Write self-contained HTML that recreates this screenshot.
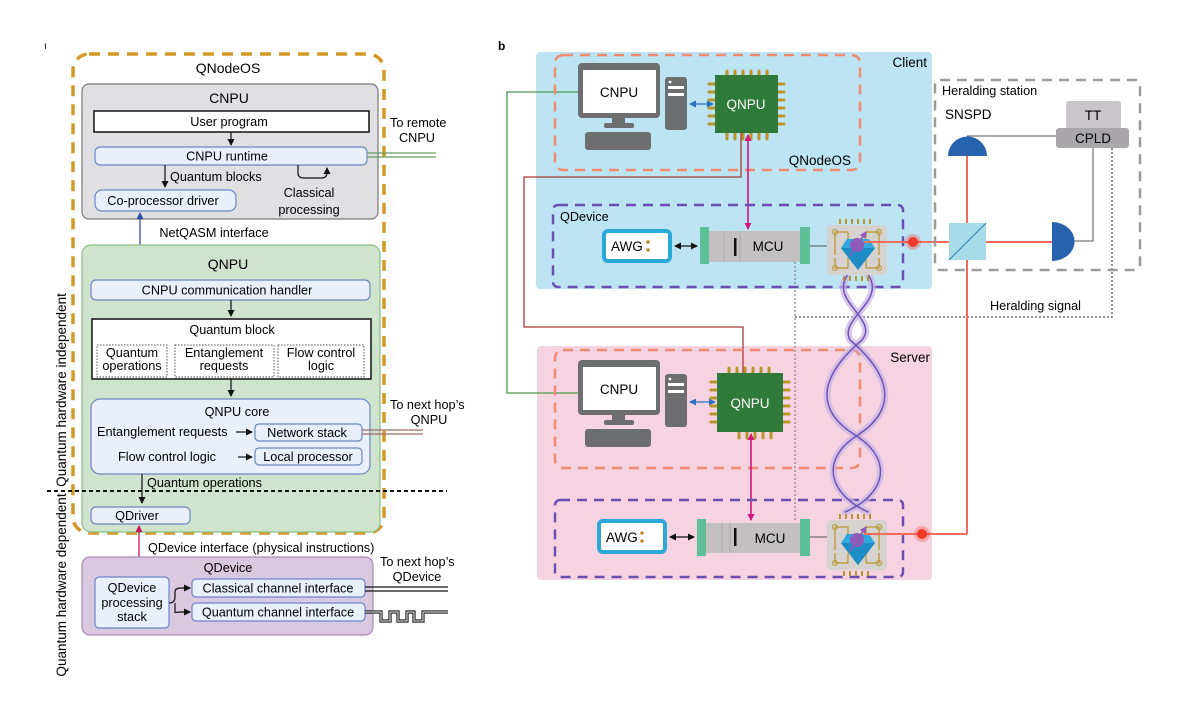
<!DOCTYPE html>
<html><head><meta charset="utf-8"><style>
html,body{margin:0;padding:0;background:#fff;}
svg{display:block;font-family:"Liberation Sans",Arial,sans-serif;}
</style></head><body>
<svg width="1198" height="723" viewBox="0 0 1198 723" xmlns="http://www.w3.org/2000/svg">
<defs>
<marker id="ah" markerWidth="8" markerHeight="8" refX="6" refY="4" orient="auto-start-reverse" markerUnits="userSpaceOnUse"><path d="M0,0.5 L7,4 L0,7.5 Z" fill="#111"/></marker>
<marker id="ahb" markerWidth="8" markerHeight="8" refX="6" refY="4" orient="auto-start-reverse" markerUnits="userSpaceOnUse"><path d="M0,0.5 L7,4 L0,7.5 Z" fill="#2c4fb0"/></marker>
<marker id="ahp" markerWidth="8" markerHeight="8" refX="6" refY="4" orient="auto-start-reverse" markerUnits="userSpaceOnUse"><path d="M0,0.5 L7,4 L0,7.5 Z" fill="#c2185b"/></marker>
<marker id="ahm" markerWidth="8" markerHeight="8" refX="6" refY="4" orient="auto-start-reverse" markerUnits="userSpaceOnUse"><path d="M0,0.5 L7,4 L0,7.5 Z" fill="#d6157f"/></marker>
<marker id="ahv" markerWidth="8" markerHeight="8" refX="6" refY="4" orient="auto-start-reverse" markerUnits="userSpaceOnUse"><path d="M0,0.5 L7,4 L0,7.5 Z" fill="#8e5bb8"/></marker>
<marker id="ahl" markerWidth="8" markerHeight="8" refX="6" refY="4" orient="auto-start-reverse" markerUnits="userSpaceOnUse"><path d="M0,0.5 L7,4 L0,7.5 Z" fill="#2a6fc0"/></marker>
</defs>

<!-- ===== LEFT PANEL ===== -->
<text x="44" y="49" font-size="10">ı</text>
<rect x="73" y="54" width="311" height="479" rx="16" fill="none" stroke="#d49a28" stroke-width="3.5" stroke-dasharray="11,8"/>
<text x="228" y="73" font-size="14" text-anchor="middle">QNodeOS</text>

<rect x="82" y="84" width="296" height="135" rx="7" fill="#e0e0e2" stroke="#7a7a7c" stroke-width="1.2"/>
<text x="229" y="103" font-size="14" text-anchor="middle">CNPU</text>
<rect x="94" y="111" width="275" height="21" fill="#fff" stroke="#111" stroke-width="1.5"/>
<text x="229" y="126" font-size="12.7" text-anchor="middle">User program</text>
<line x1="231" y1="132" x2="231" y2="145" stroke="#111" stroke-width="1.2" marker-end="url(#ah)"/>
<rect x="95" y="147" width="272" height="18" rx="5" fill="#eaf0fb" stroke="#6b86c6" stroke-width="1.2"/>
<text x="227" y="160.5" font-size="12.7" text-anchor="middle">CNPU runtime</text>
<line x1="165" y1="165" x2="165" y2="187" stroke="#111" stroke-width="1.2" marker-end="url(#ah)"/>
<text x="170" y="181" font-size="12.7">Quantum blocks</text>
<path d="M298,165 V173 Q298,178 304,178 H322 Q327,178 327,172 V168" fill="none" stroke="#111" stroke-width="1.2" marker-end="url(#ah)"/>
<text x="309" y="197" font-size="12.7" text-anchor="middle">Classical</text>
<text x="309" y="214" font-size="12.7" text-anchor="middle">processing</text>
<rect x="95" y="190" width="141" height="21" rx="7" fill="#eaf0fb" stroke="#6b86c6" stroke-width="1.2"/>
<text x="163" y="205" font-size="12.7" text-anchor="middle">Co-processor driver</text>
<line x1="140" y1="213" x2="140" y2="278" stroke="#2c4fb0" stroke-width="1.3" marker-start="url(#ahb)" marker-end="url(#ahb)"/>
<text x="214" y="237" font-size="12.7" text-anchor="middle">NetQASM interface</text>

<rect x="82" y="245" width="298" height="287" rx="9" fill="#cfe4cc" stroke="#8bbd85" stroke-width="1.2"/>
<text x="228" y="269" font-size="14" text-anchor="middle">QNPU</text>
<rect x="91" y="280" width="279" height="20" rx="5" fill="#eaf0fb" stroke="#6b86c6" stroke-width="1.2"/>
<text x="227" y="294.5" font-size="12.7" text-anchor="middle">CNPU communication handler</text>
<line x1="231" y1="300" x2="231" y2="316" stroke="#111" stroke-width="1.2" marker-end="url(#ah)"/>
<rect x="92" y="319" width="279" height="60" fill="#fff" stroke="#111" stroke-width="1.5"/>
<text x="232" y="334" font-size="12.7" text-anchor="middle">Quantum block</text>
<g fill="none" stroke="#555" stroke-width="1" stroke-dasharray="1.5,1.5">
<rect x="97" y="345" width="70" height="32"/><rect x="175" y="345" width="99" height="32"/><rect x="278" y="345" width="86" height="32"/>
</g>
<g font-size="12.7" text-anchor="middle">
<text x="132" y="357">Quantum</text><text x="132" y="370">operations</text>
<text x="224" y="357">Entanglement</text><text x="224" y="370">requests</text>
<text x="321" y="357">Flow control</text><text x="321" y="370">logic</text>
</g>
<line x1="231" y1="379" x2="231" y2="396" stroke="#111" stroke-width="1.2" marker-end="url(#ah)"/>
<rect x="91" y="399" width="279" height="75" rx="9" fill="#eaf0fb" stroke="#6b86c6" stroke-width="1.2"/>
<text x="237" y="416" font-size="12.7" text-anchor="middle">QNPU core</text>
<text x="97" y="436" font-size="12.7">Entanglement requests</text>
<line x1="236" y1="432" x2="252" y2="432" stroke="#111" stroke-width="1.2" marker-end="url(#ah)"/>
<rect x="255" y="424" width="107" height="17" rx="4" fill="#eaf0fb" stroke="#6b86c6" stroke-width="1.2"/>
<text x="307" y="437" font-size="12.7" text-anchor="middle">Network stack</text>
<text x="118" y="461" font-size="12.7">Flow control logic</text>
<line x1="238" y1="457" x2="252" y2="457" stroke="#111" stroke-width="1.2" marker-end="url(#ah)"/>
<rect x="255" y="448" width="107" height="17" rx="4" fill="#eaf0fb" stroke="#6b86c6" stroke-width="1.2"/>
<text x="308" y="461" font-size="12.7" text-anchor="middle">Local processor</text>
<line x1="362" y1="430" x2="423" y2="430" stroke="#a06a6a" stroke-width="1.2"/>
<line x1="362" y1="434" x2="423" y2="434" stroke="#a06a6a" stroke-width="1.2"/>
<text x="390" y="409" font-size="12.7">To next hop’s</text>
<text x="429" y="424" font-size="12.7" text-anchor="middle">QNPU</text>
<line x1="142" y1="474" x2="142" y2="503" stroke="#111" stroke-width="1.2" marker-end="url(#ah)"/>
<text x="147" y="487" font-size="12.7">Quantum operations</text>
<line x1="47" y1="491" x2="447" y2="491" stroke="#111" stroke-width="2" stroke-dasharray="4,3"/>
<rect x="91" y="507" width="99" height="17" rx="5" fill="#eaf0fb" stroke="#6b86c6" stroke-width="1.2"/>
<text x="137" y="520" font-size="12.7" text-anchor="middle">QDriver</text>
<line x1="139" y1="526" x2="139" y2="581" stroke="#c2185b" stroke-width="1.3" marker-start="url(#ahp)" marker-end="url(#ahp)"/>
<text x="148" y="552" font-size="12.7">QDevice interface (physical instructions)</text>

<rect x="82" y="557" width="291" height="78" rx="8" fill="#d9c9e0" stroke="#a98bb8" stroke-width="1.2"/>
<text x="228" y="572" font-size="12.7" text-anchor="middle">QDevice</text>
<rect x="95" y="577" width="74" height="51" rx="4" fill="#eaf0fb" stroke="#6b86c6" stroke-width="1.2"/>
<g font-size="12.7" text-anchor="middle"><text x="132" y="592">QDevice</text><text x="132" y="607">processing</text><text x="132" y="621">stack</text></g>
<path d="M169,603 Q175,603 175,597 V592 Q175,588 181,588 H190 M175,603 V613 Q175,612 181,612 H190" fill="none" stroke="#111" stroke-width="1.2"/>
<line x1="182" y1="588" x2="190" y2="588" stroke="#111" stroke-width="1.2" marker-end="url(#ah)"/>
<line x1="182" y1="612" x2="190" y2="612" stroke="#111" stroke-width="1.2" marker-end="url(#ah)"/>
<rect x="192" y="579" width="173" height="18" rx="4" fill="#eaf0fb" stroke="#6b86c6" stroke-width="1.2"/>
<text x="278" y="592.5" font-size="12.7" text-anchor="middle">Classical channel interface</text>
<rect x="192" y="603" width="173" height="18" rx="4" fill="#eaf0fb" stroke="#6b86c6" stroke-width="1.2"/>
<text x="278" y="616.5" font-size="12.7" text-anchor="middle">Quantum channel interface</text>
<line x1="365" y1="587" x2="448" y2="587" stroke="#111" stroke-width="1.2"/>
<line x1="365" y1="591" x2="448" y2="591" stroke="#111" stroke-width="1.2"/>
<path d="M365,612 H381 V621 H390 V612 H398 V621 H407 V612 H414 V621 H423 V612 H448" fill="none" stroke="#111" stroke-width="3.2"/>
<path d="M365,612 H381 V621 H390 V612 H398 V621 H407 V612 H414 V621 H423 V612 H448" fill="none" stroke="#fff" stroke-width="1"/>
<text x="380" y="566" font-size="12.7">To next hop’s</text>
<text x="417" y="581" font-size="12.7" text-anchor="middle">QDevice</text>
<text x="390" y="127" font-size="12.7">To remote</text>
<text x="417" y="142" font-size="12.7" text-anchor="middle">CNPU</text>
<line x1="367" y1="153" x2="436" y2="153" stroke="#6b9a62" stroke-width="1.2"/>
<line x1="367" y1="157" x2="436" y2="157" stroke="#6b9a62" stroke-width="1.2"/>

<text transform="translate(66,390) rotate(-90)" font-size="13.5" text-anchor="middle">Quantum hardware independent</text>
<text transform="translate(66,585) rotate(-90)" font-size="13.5" text-anchor="middle">Quantum hardware dependent</text>

<!-- ===== RIGHT PANEL ===== -->
<text x="498" y="50" font-size="12" font-weight="bold">b</text>
<rect x="536" y="52" width="396" height="237" rx="4" fill="#bde4f3"/>
<rect x="537" y="346" width="395" height="234" rx="4" fill="#f6d3e0"/>
<text x="927" y="67" font-size="13.5" text-anchor="end">Client</text>
<text x="930" y="362" font-size="13.5" text-anchor="end">Server</text>

<path d="M578,92 H507 V393 H578" fill="none" stroke="#4a9a4a" stroke-width="1.3"/>
<path d="M741,133 V177 H524 V327 H743 V373" fill="none" stroke="#a83a3a" stroke-width="1.3"/>
<path d="M1112,148 V317 H795" fill="none" stroke="#555" stroke-width="1.3" stroke-dasharray="2,2"/>
<line x1="795" y1="262" x2="795" y2="522" stroke="#777" stroke-width="1.1" stroke-dasharray="2,2"/>

<rect x="555" y="55" width="305" height="115" rx="8" fill="none" stroke="#f08a70" stroke-width="2.5" stroke-dasharray="10,7"/>
<text x="851" y="165" font-size="13.5" text-anchor="end">QNodeOS</text>
<g id="pc1">
<rect x="578" y="63" width="82" height="55" rx="4" fill="#6d6e70"/>
<rect x="583" y="70" width="73" height="43" fill="#fff"/>
<text x="619" y="97" font-size="13.5" text-anchor="middle">CNPU</text>
<rect x="612" y="118" width="13" height="8" fill="#6d6e70"/>
<rect x="604" y="123" width="30" height="5" rx="2" fill="#6d6e70"/>
<rect x="585" y="132" width="66" height="18" rx="3" fill="#6d6e70"/>
<rect x="665" y="77" width="22" height="53" rx="3" fill="#6d6e70"/>
<rect x="668" y="86" width="16" height="3" fill="#fff"/><rect x="668" y="93" width="16" height="3" fill="#fff"/>
<circle cx="670" cy="82" r="1.4" fill="#fff"/>
</g>
<line x1="690" y1="104" x2="713" y2="104" stroke="#2a6fc0" stroke-width="1.3" marker-start="url(#ahl)" marker-end="url(#ahl)"/>
<g stroke="#b8952a" stroke-width="3" stroke-linecap="round">
<path d="M727,71 v5 M735,71 v5 M743,71 v5 M751,71 v5 M759,71 v5 M767,71 v5"/>
<path d="M727,133 v6 M735,133 v6 M743,133 v6 M751,133 v6 M759,133 v6 M767,133 v6"/>
<path d="M709,84 h6 M709,92 h6 M709,100 h6 M709,108 h6 M709,116 h6 M709,124 h6"/>
<path d="M778,84 h6 M778,92 h6 M778,100 h6 M778,108 h6 M778,116 h6 M778,124 h6"/>
</g>
<rect x="715" y="75" width="63" height="58" fill="#2f7a3a"/>
<text x="746" y="109" font-size="13.5" fill="#fff" text-anchor="middle">QNPU</text>
<line x1="748" y1="135" x2="748" y2="229" stroke="#d6157f" stroke-width="1.6" marker-start="url(#ahm)" marker-end="url(#ahm)"/>

<rect x="553" y="205" width="350" height="82" rx="5" fill="none" stroke="#6a4fb3" stroke-width="2.5" stroke-dasharray="10,7"/>
<text x="560" y="221" font-size="12.7">QDevice</text>
<rect x="604" y="231" width="66" height="30" rx="4" fill="#fff" stroke="#2aa8d8" stroke-width="4"/>
<text x="611" y="251" font-size="13.5">AWG</text>
<circle cx="648" cy="242" r="1.8" fill="#b8952a"/><circle cx="648" cy="250" r="1.8" fill="#b8952a"/>
<line x1="675" y1="246" x2="697" y2="246" stroke="#111" stroke-width="1.2" marker-start="url(#ah)" marker-end="url(#ah)"/>
<rect x="708" y="231" width="92" height="31" fill="#c3c0c2"/>
<line x1="724" y1="231" x2="724" y2="262" stroke="#aaa"/><line x1="740" y1="231" x2="740" y2="262" stroke="#aaa"/>
<rect x="734" y="238" width="2.5" height="18" fill="#111"/>
<text x="768" y="251" font-size="13.5" text-anchor="middle">MCU</text>
<rect x="700" y="227" width="9" height="37" fill="#5fbf98"/><rect x="800" y="227" width="10" height="37" fill="#5fbf98"/>
<line x1="810" y1="246" x2="830" y2="246" stroke="#555" stroke-width="1"/>

<rect x="555" y="350" width="305" height="118" rx="8" fill="none" stroke="#f08a70" stroke-width="2.5" stroke-dasharray="10,7"/>
<use href="#pc1" transform="translate(0,297)"/>
<line x1="690" y1="402" x2="715" y2="402" stroke="#2a6fc0" stroke-width="1.3" marker-start="url(#ahl)" marker-end="url(#ahl)"/>
<g stroke="#b8952a" stroke-width="3" stroke-linecap="round">
<path d="M729,368 v5 M737,368 v5 M745,368 v5 M753,368 v5 M761,368 v5 M769,368 v5"/>
<path d="M739,432 v6 M747,432 v6 M755,432 v6 M763,432 v6 M771,432 v6"/>
<path d="M711,382 h6 M711,390 h6 M711,398 h6 M711,406 h6 M711,414 h6 M711,422 h6"/>
<path d="M783,382 h6 M783,390 h6 M783,398 h6 M783,406 h6 M783,414 h6 M783,422 h6"/>
</g>
<rect x="717" y="373" width="66" height="59" fill="#2f7a3a"/>
<text x="750" y="408" font-size="13.5" fill="#fff" text-anchor="middle">QNPU</text>
<line x1="751" y1="434" x2="751" y2="520" stroke="#d6157f" stroke-width="1.6" marker-start="url(#ahm)" marker-end="url(#ahm)"/>

<rect x="555" y="500" width="348" height="77" rx="5" fill="none" stroke="#6a4fb3" stroke-width="2.5" stroke-dasharray="10,7"/>
<rect x="599" y="521" width="66" height="31" rx="4" fill="#fff" stroke="#2aa8d8" stroke-width="4"/>
<text x="606" y="542" font-size="13.5">AWG</text>
<circle cx="642" cy="533" r="1.8" fill="#b8952a"/><circle cx="642" cy="541" r="1.8" fill="#b8952a"/>
<line x1="670" y1="537" x2="694" y2="537" stroke="#111" stroke-width="1.2" marker-start="url(#ah)" marker-end="url(#ah)"/>
<rect x="706" y="523" width="94" height="30" fill="#c3c0c2"/>
<line x1="722" y1="523" x2="722" y2="553" stroke="#aaa"/><line x1="730" y1="523" x2="730" y2="553" stroke="#aaa"/>
<rect x="734" y="528" width="2.5" height="18" fill="#111"/>
<text x="770" y="543" font-size="13.5" text-anchor="middle">MCU</text>
<rect x="697" y="519" width="9" height="37" fill="#5fbf98"/><rect x="800" y="519" width="10" height="37" fill="#5fbf98"/>
<line x1="810" y1="537" x2="830" y2="537" stroke="#555" stroke-width="1"/>

<g fill="none" stroke-linecap="round">
<path d="M850,272 C825,300 880,318 862,340 C815,380 818,412 855,435 C895,460 885,495 845,512" stroke="#c9b3e6" stroke-width="7" opacity="0.7"/>
<path d="M866,272 C890,300 838,318 850,340 C897,380 893,412 858,435 C818,460 830,495 868,512" stroke="#c9b3e6" stroke-width="7" opacity="0.7"/>
<path d="M850,272 C825,300 880,318 862,340 C815,380 818,412 855,435 C895,460 885,495 845,512" stroke="#6f54b8" stroke-width="1.5"/>
<path d="M866,272 C890,300 838,318 850,340 C897,380 893,412 858,435 C818,460 830,495 868,512" stroke="#6f54b8" stroke-width="1.5"/>
</g>

<g id="dev1">
<rect x="827" y="225" width="60" height="50" rx="4" fill="#d6d2d0"/>
<g stroke="#b8952a" stroke-width="2"><path d="M840,219 v5 M846,219 v5 M852,219 v5 M858,219 v5 M864,219 v5 M870,219 v5"/><path d="M844,276 v5 M850,276 v5 M856,276 v5 M862,276 v5 M868,276 v5"/></g>
<path d="M835,255 V232 H848 V245 M866,245 V232 H879 V255 M835,258 V268 H848 V258 M866,258 V268 H879 V258" fill="none" stroke="#b8952a" stroke-width="1.2"/>
<circle cx="835" cy="232" r="2.5" fill="none" stroke="#b8952a"/><circle cx="879" cy="232" r="2.5" fill="none" stroke="#b8952a"/>
<circle cx="835" cy="268" r="2.5" fill="none" stroke="#b8952a"/><circle cx="879" cy="268" r="2.5" fill="none" stroke="#b8952a"/>
<path d="M847,239 H869 L875,248 L858,270 L841,248 Z" fill="#2fa9dd"/>
<path d="M841,248 H875 L858,270 Z" fill="#1e8dc4"/>
<circle cx="857" cy="245" r="7" fill="#8e5bb8"/>
<line x1="850" y1="256" x2="866" y2="232" stroke="#8e5bb8" stroke-width="1.6" marker-end="url(#ahv)"/>
</g>
<use href="#dev1" transform="translate(0,295)"/>

<line x1="864" y1="242" x2="1052" y2="242" stroke="#f26b5b" stroke-width="2"/>
<line x1="967" y1="156" x2="967" y2="534" stroke="#f26b5b" stroke-width="2"/>
<line x1="864" y1="534" x2="967" y2="534" stroke="#f26b5b" stroke-width="2"/>
<circle cx="913" cy="242" r="5" fill="#f23a2a"/><circle cx="913" cy="242" r="8" fill="#f23a2a" opacity="0.3"/>
<circle cx="922" cy="534" r="5" fill="#f23a2a"/><circle cx="922" cy="534" r="8" fill="#f23a2a" opacity="0.3"/>

<rect x="935" y="80" width="205" height="190" rx="5" fill="none" stroke="#9e9a9c" stroke-width="2.5" stroke-dasharray="10,7"/>
<text x="942" y="95" font-size="12.7">Heralding station</text>
<text x="945" y="119" font-size="13.5">SNSPD</text>
<rect x="1066" y="101" width="55" height="28" rx="3" fill="#c8c6c8"/>
<text x="1093" y="120" font-size="13.5" text-anchor="middle">TT</text>
<rect x="1056" y="128" width="73" height="20" rx="3" fill="#a9a7a9"/>
<text x="1093" y="143" font-size="13.5" text-anchor="middle">CPLD</text>
<path d="M967,136 H1056" stroke="#555" stroke-width="1" fill="none"/>
<path d="M1073,241 H1093 V148" stroke="#555" stroke-width="1" fill="none"/>
<path d="M948,156 A19,19 0 0 1 987,156 Z" fill="#2762ae"/>
<path d="M1052,222 A22,19 0 0 1 1052,261 Z" fill="#2762ae"/>
<rect x="949" y="223" width="37" height="37" fill="#a7dbe8"/>
<line x1="949" y1="260" x2="986" y2="223" stroke="#2a7fb8" stroke-width="1"/>
<text x="990" y="310" font-size="12.7">Heralding signal</text>
</svg>
</body></html>
